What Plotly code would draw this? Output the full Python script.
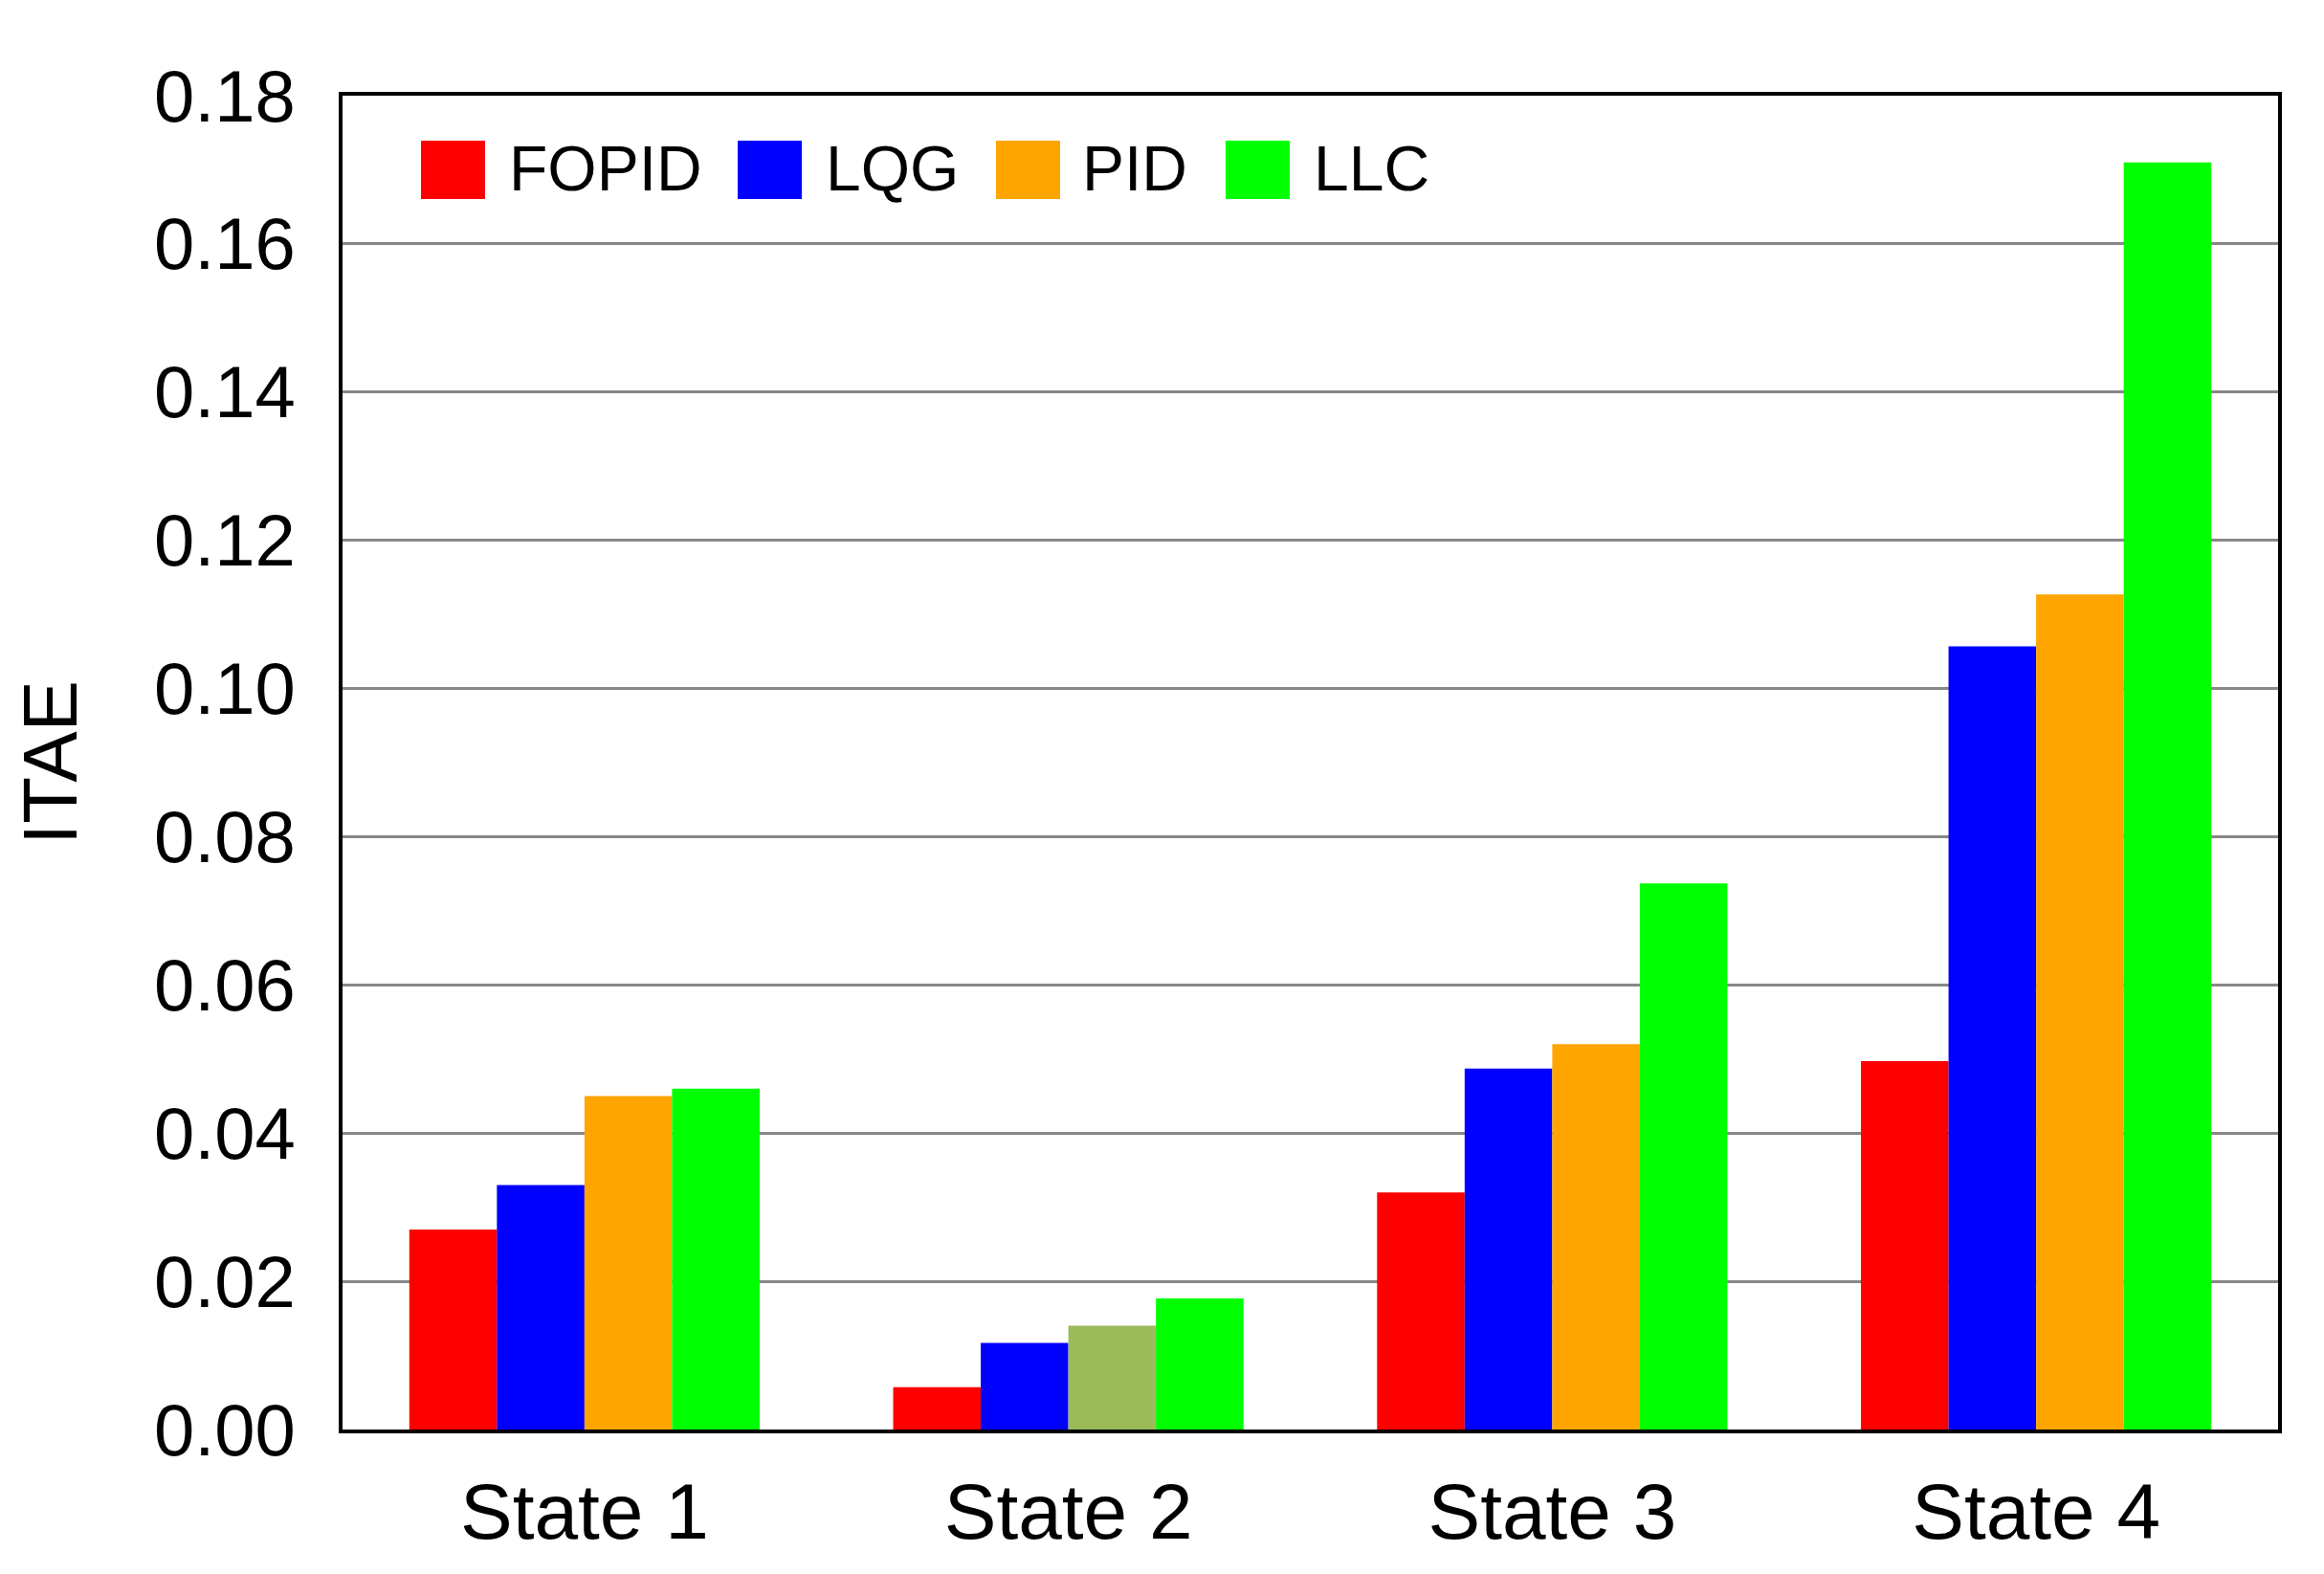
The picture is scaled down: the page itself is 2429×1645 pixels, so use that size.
import plotly.graph_objects as go

categories = ["State 1", "State 2", "State 3", "State 4"]
series_names = ["FOPID", "LQG", "PID", "LLC"]
fopid = [0.0270, 0.0057, 0.0320, 0.0497]
lqg = [0.0330, 0.0117, 0.0487, 0.1057]
pid = [0.0450, 0.0140, 0.0520, 0.1127]
llc = [0.0460, 0.0177, 0.0737, 0.1710]
series_values = [fopid, lqg, pid, llc]
series_colors = ["#FF0000", "#0000FF", "#FFA500", "#00FF00"]
pid_bar_colors = ["#FFA500", "#9BBB59", "#FFA500", "#FFA500"]
y_ticks = [0.00, 0.02, 0.04, 0.06, 0.08, 0.10, 0.12, 0.14, 0.16, 0.18]

W, H = 2429, 1645
L, R, T, B = 350, 56, 92, 159
PW, PH = W - L - R, H - T - B
FONT = "Liberation Sans, Arial, sans-serif"

fig = go.Figure()
for name, vals, col in zip(series_names, series_values, series_colors):
    mc = pid_bar_colors if name == "PID" else col
    fig.add_trace(go.Bar(x=categories, y=vals, name=name,
                         marker=dict(color=mc, line=dict(width=0)),
                         showlegend=False))

# custom legend (large square swatches like the reference)
legend_sq_x = [432, 763, 1033, 1273]
legend_tx_x = [522, 853, 1121, 1363]
sq_top, sq_bot = 139, 200
def px2x(px):
    return (px - L) / PW
def py2y(py):
    return (H - B - py) / PH
shapes = []
annots = []
for i, (name, col) in enumerate(zip(series_names, series_colors)):
    shapes.append(dict(type="rect", xref="paper", yref="paper",
                       x0=px2x(legend_sq_x[i]), x1=px2x(legend_sq_x[i] + 67),
                       y0=py2y(sq_bot), y1=py2y(sq_top),
                       fillcolor=col, line=dict(width=0), layer="above"))
    annots.append(dict(xref="paper", yref="paper", x=px2x(legend_tx_x[i]),
                       y=py2y(168), text=name, showarrow=False,
                       xanchor="left", yanchor="middle",
                       font=dict(family=FONT, size=66, color="black")))

fig.update_layout(
    width=W, height=H,
    margin=dict(l=L, r=R, t=T, b=B, autoexpand=False),
    paper_bgcolor="white", plot_bgcolor="white",
    barmode="group", bargap=0.276, bargroupgap=0,
    font=dict(family=FONT, color="black"),
    shapes=shapes, annotations=annots,
    showlegend=False,
)
fig.update_xaxes(
    automargin=False,
    showgrid=False, showline=True, linecolor="black", linewidth=4,
    mirror=True, ticks="", tickfont=dict(family=FONT, size=82, color="black"),
    ticklabelstandoff=12,
)
fig.update_yaxes(
    automargin=False,
    range=[0, 0.18], tickvals=y_ticks,
    ticktext=[f"{v:.2f}" for v in y_ticks],
    showgrid=True, gridcolor="#888888", gridwidth=3,
    showline=True, linecolor="black", linewidth=4, mirror=True,
    ticks="", tickfont=dict(family=FONT, size=76, color="black"),
    ticklabelstandoff=30, zeroline=False,
    title=dict(text="ITAE", font=dict(family=FONT, size=80, color="black"),
               standoff=55),
)
fig.write_html("out.html")
